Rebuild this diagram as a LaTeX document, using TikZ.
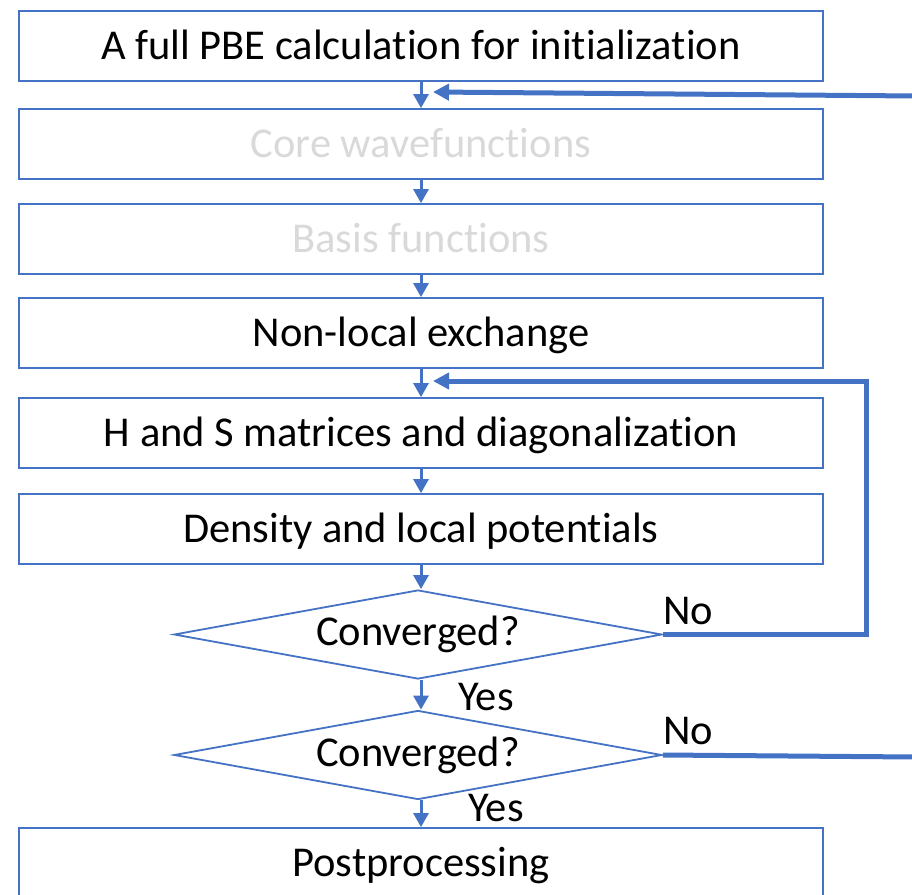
\documentclass[tikz,border=0pt]{standalone}
\usepackage{fontspec}
\setmainfont[RawFeature=-liga]{Carlito}
\usetikzlibrary{shapes.geometric,arrows.meta,calc}
\definecolor{flowblue}{HTML}{4472C4}
\definecolor{fadedtext}{HTML}{D9D9D9}
\begin{document}
\begin{tikzpicture}[x=1pt,y=-1pt,
  stepbox/.style={draw=flowblue,line width=1.8pt,minimum width=804pt,minimum height=70pt,
    inner sep=0pt,font=\fontsize{42.5}{48}\selectfont,text=black,text depth=2pt},
  decision/.style={draw=flowblue,line width=1.8pt,shape=diamond,aspect=5.4,
    minimum width=488pt,minimum height=89pt,inner sep=0pt,font=\fontsize{42.5}{48}\selectfont},
  flow/.style={draw=flowblue,line width=3pt,-{Triangle[length=14pt,width=15pt]}},
  loopback/.style={draw=flowblue,line width=5pt,-{Triangle[length=16pt,width=16pt]}},
  lab/.style={font=\fontsize{42.5}{48}\selectfont,inner sep=0pt}]
\useasboundingbox (0,0) rectangle (912,894);
\begin{scope}
\clip (0,0) rectangle (912,894);
\node[stepbox] (init) at (421,46) {A full PBE calculation for initialization};
\node[stepbox,text=fadedtext] (core) at (421,144) {Core wavefunctions};
\node[stepbox,text=fadedtext] (basis) at (421,239) {Basis functions};
\node[stepbox] (nonloc) at (421,333) {Non-local exchange};
\node[stepbox] (hs) at (421,433) {H and S matrices and diagonalization};
\node[stepbox] (dens) at (421,529) {Density and local potentials};
\node[decision] (conv1) at (418,634.5) {Converged?};
\node[decision] (conv2) at (418,755) {Converged?};
\node[stepbox] (post) at (421,863) {Postprocessing};

% main downward flow
\draw[flow] (init.south) -- (core.north);
\draw[flow] (core.south) -- (basis.north);
\draw[flow] (basis.south) -- (nonloc.north);
\draw[flow] (nonloc.south) -- (hs.north);
\draw[flow] (hs.south) -- (dens.north);
\draw[flow] (dens.south) -- (conv1.north -| dens.south);
\draw[flow] (conv1.south -| dens.south) -- (conv2.north -| dens.south);
\draw[flow] (conv2.south -| dens.south) -- (post.north);

% inner loop back to the Hamiltonian step
\coordinate (innerin) at (433,381);
\draw[loopback] (conv1.east) -- (866,634.5) -- (866,381) -- (innerin);

% outer loop back below the initialization
\coordinate (outerout) at (916,757);
\coordinate (outerin) at (916,96);
\coordinate (outertip) at (433,92);
\draw[draw=flowblue,line width=5pt] (conv2.east) -- (outerout);
\draw[loopback] (outerin) -- (outertip);

% branch labels
\node[lab] (no1) at (688,611) {No};
\node[lab] (yes1) at (486,697) {Yes};
\node[lab] (no2) at (688,731) {No};
\node[lab] (yes2) at (496,808) {Yes};
\end{scope}
\end{tikzpicture}
\end{document}
